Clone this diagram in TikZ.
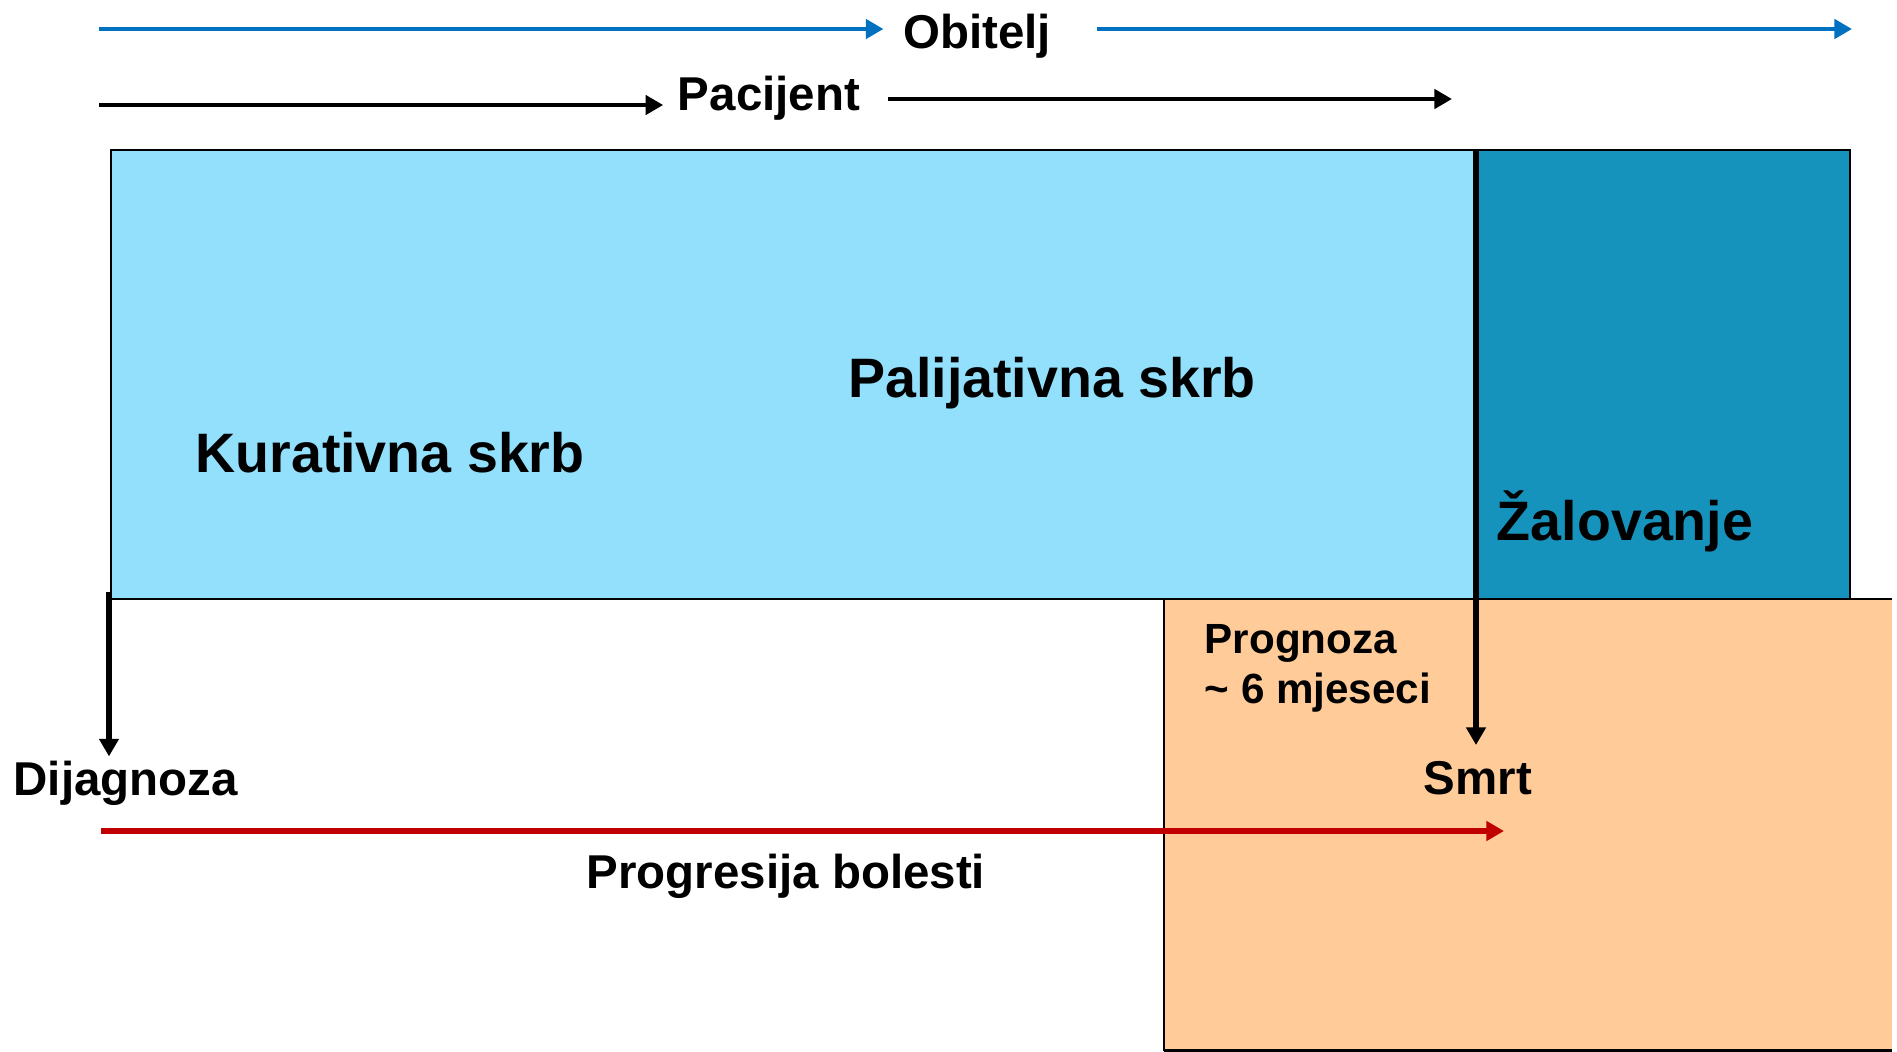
\documentclass[tikz,border=0pt]{standalone}
\usepackage{fontspec}
\setmainfont{Liberation Sans}
\usepackage{xcolor}
\usetikzlibrary{arrows.meta,positioning,calc}
\definecolor{curablue}{HTML}{92E0FC}
\definecolor{griefteal}{HTML}{1693BC}
\definecolor{progpeach}{HTML}{FFCC99}
\definecolor{familyblue}{HTML}{0070C0}
\definecolor{diseasered}{HTML}{C00000}
\tikzset{%
       phase/.style = { draw=black, line width=0.8pt },
         tag/.style = { font=\fontsize{13.5}{16}\selectfont\bfseries, inner sep=0pt, anchor=base },
      bigtag/.style = { tag, font=\fontsize{15.8}{19}\selectfont\bfseries },
    smalltag/.style = { tag, font=\fontsize{12}{14}\selectfont\bfseries, anchor=base west },
    timeline/.style = { line width=1.35pt, -{Triangle[length=5pt,width=5.4pt]} },
      marker/.style = { timeline, line width=1.6pt },
     redline/.style = { timeline, diseasered, line width=1.6pt }
}
\begin{document}
\begin{tikzpicture}[x=0.01cm,y=-0.01cm,line cap=butt,line join=miter]
\useasboundingbox (0,0) rectangle (1897,1051);
% care phases
\draw[phase,fill=curablue] (111,150) rectangle (1476,599);
\draw[phase,fill=griefteal] (1476,150) rectangle (1850,599);
% prognosis window
\fill[progpeach] (1164,599) rectangle (1892,1051);
\draw[phase] (1892,599) -- (1164,599) -- (1164,1051) (1164,1050.5) -- (1892,1050.5);
% texts
\node[tag] (obitelj) at (977,48) {Obitelj};
\node[tag] (pacijent) at (769,110) {Pacijent};
\node[bigtag] (kurativna) at (390,472) {Kurativna skrb};
\node[bigtag] (palijativna) at (1052,397) {Palijativna skrb};
\node[bigtag] (zalovanje) at (1625,540) {Žalovanje};
\node[smalltag] (prognoza) at (1204,653) {Prognoza};
\node[smalltag] (mjeseci) at (1204,703) {\textasciitilde{} 6 mjeseci};
\node[tag,anchor=base west] (dijagnoza) at (13,795) {Dijagnoza};
\node[tag] (smrt) at (1478,794) {Smrt};
\node[tag] (progresija) at (786,888) {Progresija bolesti};
% family and patient timelines
\coordinate (obL) at (99,29);
\coordinate (obR) at (1852,29);
\coordinate (paL) at (99,105);
\coordinate (paR) at (1452,99);
\draw[timeline,familyblue,shorten >=5.4pt] (obL) -- (obL -| obitelj.west);
\draw[timeline,familyblue,shorten <=13pt] (obL -| obitelj.east) -- (obR);
\draw[timeline,shorten >=4pt] (paL) -- (paL -| pacijent.west);
\draw[timeline,shorten <=7.7pt] (paR -| pacijent.east) -- (paR);
% diagnosis and death
\coordinate (diagTop) at (109,592);
\coordinate (divTop) at (1476,150);
\draw[marker,shorten >=1pt] (diagTop) -- (diagTop |- dijagnoza.north);
\draw[marker,shorten >=4.3pt] (divTop) -- (divTop |- smrt.north);
% disease progression
\coordinate (redL) at (101,831);
\coordinate (redR) at (1504,831);
\draw[redline] (redL) -- (redR);
\end{tikzpicture}
\end{document}
